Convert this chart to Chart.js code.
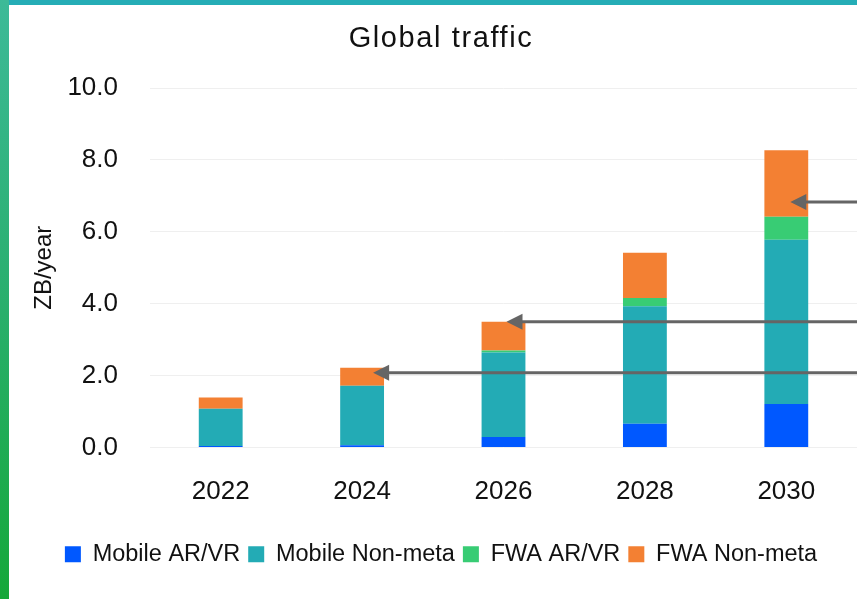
<!DOCTYPE html>
<html>
<head>
<meta charset="utf-8">
<script src="https://cdn.jsdelivr.net/npm/chart.js@4.4.1/dist/chart.umd.min.js"></script>
<style>
  html, body { margin: 0; padding: 0; background: #fff; }
  #wrap { position: relative; width: 857px; height: 599px; overflow: hidden; background: #fff; }
  #leftBar { position: absolute; left: 0; top: 0; width: 9px; height: 599px;
             background: linear-gradient(to bottom, #3dba98, #2bb072 45%, #15a83a); }
  #topBar { position: absolute; left: 9px; top: 0; right: 0; height: 5px; background: #25adb6; }
  #chart { position: absolute; left: 0; top: 0; }
</style>
</head>
<body>
<div id="wrap">
  <div id="leftBar"></div>
  <div id="topBar"></div>
  <canvas id="chart" width="857" height="599"></canvas>
</div>
<script>
// data (ZB/year)
const years = ['2022', '2024', '2026', '2028', '2030'];
const mobileArVr = [0.04, 0.06, 0.29, 0.66, 1.21];
const mobileNonMeta = [1.04, 1.66, 2.35, 3.27, 4.57];
const fwaArVr = [0.0, 0.0, 0.06, 0.23, 0.64];
const fwaNonMeta = [0.31, 0.50, 0.80, 1.26, 1.85];
const yTicks = [0, 2, 4, 6, 8, 10];

// callout arrows: category index they point at, value level, small x nudge of the tip
const arrows = [
    { cat: 4, value: 6.83, nudge: 4 },
    { cat: 2, value: 3.50, nudge: 3 },
    { cat: 1, value: 2.08, nudge: 11 }
];

const FONT = "'Liberation Sans', Arial, sans-serif";

// title + arrows drawn on top of the chart
const extras = {
    id: 'extras',
    afterDraw(chart) {
        const ctx = chart.ctx;
        const x = chart.scales.x, y = chart.scales.y;
        ctx.save();
        ctx.fillStyle = '#111';
        ctx.font = '29px ' + FONT;
        ctx.letterSpacing = '1.6px';
        ctx.textAlign = 'center';
        ctx.textBaseline = 'middle';
        ctx.fillText('Global traffic', 441, 39);
        ctx.restore();

        ctx.save();
        ctx.strokeStyle = '#656565';
        ctx.fillStyle = '#656565';
        ctx.lineWidth = 3;
        arrows.forEach(a => {
            const tipX = x.getPixelForValue(a.cat) + a.nudge;
            const py = y.getPixelForValue(a.value);
            ctx.beginPath();
            ctx.moveTo(chart.width, py);
            ctx.lineTo(tipX + 12, py);
            ctx.stroke();
            ctx.beginPath();
            ctx.moveTo(tipX, py);
            ctx.lineTo(tipX + 16, py - 8);
            ctx.lineTo(tipX + 16, py + 8);
            ctx.closePath();
            ctx.fill();
        });
        ctx.restore();
    }
};

new Chart(document.getElementById('chart'), {
    type: 'bar',
    data: {
        labels: years,
        datasets: [
            { label: 'Mobile AR/VR', data: mobileArVr, backgroundColor: '#0058ff' },
            { label: 'Mobile Non-meta', data: mobileNonMeta, backgroundColor: '#23abb5' },
            { label: 'FWA AR/VR', data: fwaArVr, backgroundColor: '#38cc74' },
            { label: 'FWA Non-meta', data: fwaNonMeta, backgroundColor: '#f38033' }
        ]
    },
    options: {
        responsive: false,
        animation: false,
        layout: { padding: { top: 88, left: 25, right: 0, bottom: 23 } },
        datasets: { bar: { barPercentage: 0.62, categoryPercentage: 0.5, borderWidth: 0 } },
        scales: {
            x: {
                stacked: true,
                grid: { display: false, drawTicks: false },
                border: { display: false },
                ticks: { color: '#111', font: { family: FONT, size: 26 }, padding: 29, maxRotation: 0 },
                afterFit(scale) { scale.height = 87; }
            },
            y: {
                stacked: true,
                min: 0,
                max: 10,
                afterBuildTicks(scale) { scale.ticks = yTicks.map(v => ({ value: v })); },
                grid: { color: '#efefef', lineWidth: 1, drawTicks: false },
                border: { display: false },
                ticks: {
                    color: '#111',
                    font: { family: FONT, size: 26 },
                    padding: 32,
                    callback: v => v.toFixed(1)
                },
                title: {
                    display: true,
                    text: 'ZB/year',
                    color: '#111',
                    font: { family: FONT, size: 24 },
                    padding: { top: 5, bottom: 0 }
                },
                afterFit(scale) { scale.width = 125; }
            }
        },
        plugins: {
            legend: {
                position: 'bottom',
                labels: {
                    color: '#111',
                    font: { family: FONT, size: 23.5 },
                    boxWidth: 16,
                    boxHeight: 16,
                    padding: 8
                }
            },
            tooltip: { enabled: false }
        }
    },
    plugins: [extras]
});
</script>
</body>
</html>
